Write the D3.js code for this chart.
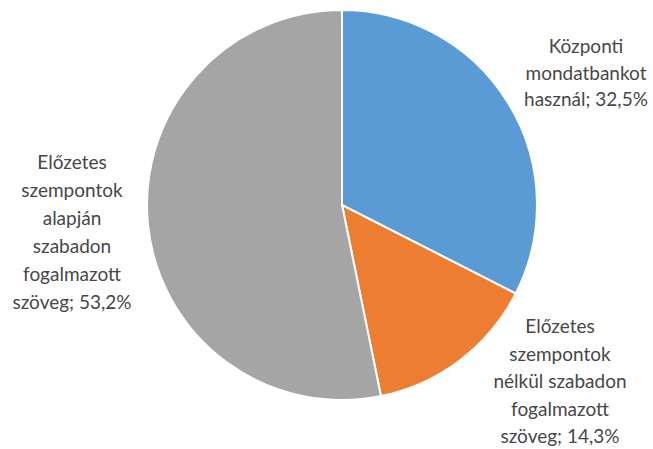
<!DOCTYPE html>
<html>
<head>
<meta charset="utf-8">
<script src="https://cdn.jsdelivr.net/npm/d3@7"></script>
<style>
  body { margin: 0; background: #fff; }
  text { font-family: Lato, "Open Sans", sans-serif; fill: #474747; font-size: 19px; }
</style>
</head>
<body>
<svg id="chart"></svg>
<script>
const categories = ["Központi mondatbankot használ", "Előzetes szempontok nélkül szabadon fogalmazott szöveg", "Előzetes szempontok alapján szabadon fogalmazott szöveg"];
const values = [32.5, 14.3, 53.2];
const colors = ["#5b9bd5", "#ed7d31", "#a5a5a5"];
// label lines and their anchor (center x, first line y)
const labelLines = [
  ["Központi", "mondatbankot", "használ; 32,5%"],
  ["Előzetes", "szempontok", "nélkül szabadon", "fogalmazott", "szöveg; 14,3%"],
  ["Előzetes", "szempontok", "alapján", "szabadon", "fogalmazott", "szöveg; 53,2%"]
];
const labelPos = [[586, 53], [560, 333], [72, 169]];
const lineStep = [26.5, 27.5, 28];

const width = 653, height = 449;
const cx = 342, cy = 205, r = 195;

const svg = d3.select("#chart").attr("width", width).attr("height", height);

const pie = d3.pie().sort(null).value(d => d);
const arc = d3.arc().innerRadius(0).outerRadius(r);

const g = svg.append("g").attr("transform", `translate(${cx},${cy})`);

g.selectAll("path")
  .data(pie(values))
  .enter().append("path")
  .attr("d", arc)
  .attr("fill", (d, i) => colors[i])
  .attr("stroke", "#fff")
  .attr("stroke-width", 2);

labelLines.forEach((lines, i) => {
  const t = svg.append("text")
    .attr("text-anchor", "middle");
  lines.forEach((ln, j) => {
    t.append("tspan")
      .attr("x", labelPos[i][0])
      .attr("y", labelPos[i][1] + j * lineStep[i])
      .text(ln);
  });
});
</script>
</body>
</html>
